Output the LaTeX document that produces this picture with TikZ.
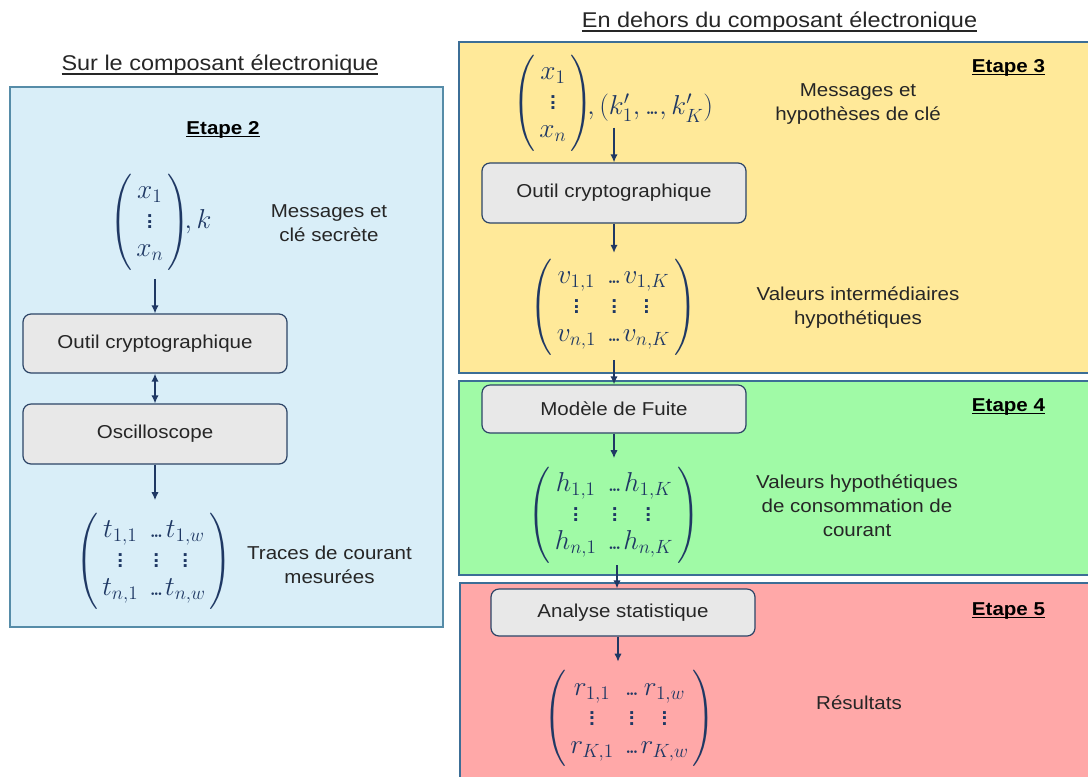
\RequirePackage{fix-cm}
\documentclass[tikz,border=0pt]{standalone}
\usepackage{amsmath}
\usepackage{graphicx}
\usepackage[no-math]{fontspec}
\setmainfont{Liberation Sans}[FakeStretch=1.1]
\usetikzlibrary{arrows.meta}
\definecolor{txtcol}{RGB}{38,38,38}
\definecolor{mathcol}{RGB}{31,56,100}
\definecolor{arrcol}{RGB}{31,56,100}
\definecolor{boxcol}{RGB}{44,68,102}
\definecolor{boxfill}{RGB}{232,232,232}
\definecolor{blueFill}{RGB}{217,238,248}
\definecolor{blueBorder}{RGB}{86,140,168}
\definecolor{yellowFill}{RGB}{255,233,153}
\definecolor{greenFill}{RGB}{160,250,166}
\definecolor{redFill}{RGB}{255,168,168}
\definecolor{rightBorder}{RGB}{60,110,150}
\newcommand{\ulbox}[3]{\setbox0\hbox{#3}\rlap{\rule[-#1]{\wd0}{#2}}\box0}
\newcommand{\tdots}{{.}\mkern-2.5mu{.}\mkern-2.5mu{.}}
\newcommand{\LPar}[1]{\vcenter{\hbox{\scalebox{1}[1.16]{$\left(\vphantom{#1}\right.\kern-\nulldelimiterspace$}}}}
\newcommand{\RPar}[1]{\vcenter{\hbox{\scalebox{1}[1.16]{$\kern-\nulldelimiterspace\left.\vphantom{#1}\right)$}}}}
\newcommand{\matbody}[4]{\begin{array}{@{\hspace{3pt}}c@{\hspace{8pt}}c@{\hspace{1pt}}c@{\hspace{3pt}}}#1&\tdots&#2\\\vdots&\vdots&\vdots\\#3&\tdots&#4\end{array}}
\newcommand{\mymat}[4]{\LPar{\matbody{#1}{#2}{#3}{#4}}\matbody{#1}{#2}{#3}{#4}\RPar{\matbody{#1}{#2}{#3}{#4}}}
\newcommand{\vecbody}{\begin{array}{@{\hspace{3pt}}c@{\hspace{3pt}}}x_1\\\vdots\\x_n\end{array}}
\newcommand{\myvec}{\LPar{\vecbody}\vecbody\RPar{\vecbody}}
\tikzset{
  panelL/.style={draw=blueBorder, fill=blueFill, line width=0.8pt},
  panelR/.style={draw=rightBorder, line width=0.8pt},
  box/.style={draw=boxcol, fill=boxfill, rounded corners=6pt, line width=0.9pt,
    minimum width=198pt, align=center, text=txtcol, font=\fontsize{14}{17}\selectfont},
  mathnode/.style={inner sep=0pt, text=mathcol, font=\fontsize{20.5}{21}\selectfont},
  lab/.style={align=center, text=txtcol, inner sep=0pt, font=\fontsize{14}{18}\selectfont},
  ttl/.style={anchor=base, inner sep=0pt, text=txtcol, font=\fontsize{16}{19}\selectfont},
  etape/.style={anchor=base, inner sep=0pt, text=black, font=\bfseries\fontsize{14}{17}\selectfont},
  arr/.style={draw=arrcol, line width=1.1pt, -{Latex[length=6pt,width=5.5pt]}},
  darr/.style={draw=arrcol, line width=1.1pt, {Latex[length=6pt,width=5.5pt]}-{Latex[length=6pt,width=5.5pt]}}
}
\begin{document}
\begin{tikzpicture}[x=0.75pt,y=-0.75pt]
\useasboundingbox (0,0) rectangle (1088,776);
% panels
\draw[panelL] (10,87) rectangle (443,627);
\draw[panelR, fill=yellowFill] (459,42) rectangle (1095,373);
\draw[panelR, fill=greenFill] (459,381) rectangle (1095,575);
\draw[panelR, fill=redFill] (460,583) rectangle (1095,790);
% titles
\node[ttl] (titleL) at (220,70) {\ulbox{3.5pt}{1pt}{Sur le composant électronique}};
\node[ttl] (titleR) at (779.5,27) {\ulbox{3.5pt}{1pt}{En dehors du composant électronique}};
\node[etape] (et2) at (223,134) {\ulbox{2.5pt}{1.1pt}{Etape 2}};
\node[etape] (et3) at (1008.5,72) {\ulbox{2.5pt}{1.1pt}{Etape 3}};
\node[etape] (et4) at (1008.5,411) {\ulbox{2.5pt}{1.1pt}{Etape 4}};
\node[etape] (et5) at (1008.5,615) {\ulbox{2.5pt}{1.1pt}{Etape 5}};
% left column
\node[mathnode] (vl) at (161,222) {$\myvec\!,k$};
\node[lab] (labL1) at (329,223) {Messages et\\clé secrète};
\node[box, minimum height=44.25pt] (b1) at (155,343.5) {Outil cryptographique};
\node[box, minimum height=45pt] (b2) at (155,434) {Oscilloscope};
\node[mathnode] (tm) at (154,561) {$\mymat{t_{1,1}}{t_{1,w}}{t_{n,1}}{t_{n,w}}$};
\node[lab] (labL2) at (329.5,565) {Traces de courant\\mesurées};
\draw[arr, shorten <=5pt] (b1.north |- vl.south) -- (b1.north);
\draw[darr] (b1.south) -- (b2.north);
\draw[arr, shorten >=8pt] (b2.south) -- (b2.south |- tm.north);
% right column
\node[mathnode] (vy) at (553,103) {$\myvec$};
\node[mathnode, anchor=west] (kt) at (587,108) {$,(k'_1,\tdots,k'_K)$};
\node[lab] (labY1) at (858,104) {Messages et\\hypothèses de clé};
\node[box, minimum height=45pt] (yb) at (614,193) {Outil cryptographique};
\node[mathnode] (vm) at (613.5,307) {$\mymat{v_{1,1}}{v_{1,K}}{v_{n,1}}{v_{n,K}}$};
\node[lab] (labY2) at (858,307.5) {Valeurs intermédiaires\\hypothétiques};
\node[box, minimum height=36pt] (gb) at (614,409) {Modèle de Fuite};
\node[mathnode] (hm) at (614,515) {$\mymat{h_{1,1}}{h_{1,K}}{h_{n,1}}{h_{n,K}}$};
\node[lab] (labG) at (857,505.5) {Valeurs hypothétiques\\de consommation de\\courant};
\node[box, minimum height=35.25pt] (rb) at (623,612.5) {Analyse statistique};
\node[mathnode] (rm) at (629.5,718.5) {$\mymat{r_{1,1}}{r_{1,w}}{r_{K,1}}{r_{K,w}}$};
\node[lab] (labR) at (859,703) {Résultats};
\draw[arr, shorten <=4pt] (yb.north |- kt.south) -- (yb.north);
\draw[arr, shorten >=3pt] (yb.south) -- (yb.south |- vm.north);
\draw[arr, shorten <=2pt] (gb.north |- vm.south) -- (gb.north);
\draw[arr, shorten >=5pt] (gb.south) -- (gb.south |- hm.north);
\draw[arr] ([xshift=2.25pt]hm.south) -- ([xshift=2.25pt]hm.south |- rb.north);
\draw[arr, shorten >=5pt] ([xshift=-3.75pt]rb.south) -- ([xshift=-3.75pt]rb.south |- rm.north);
\end{tikzpicture}
\end{document}
